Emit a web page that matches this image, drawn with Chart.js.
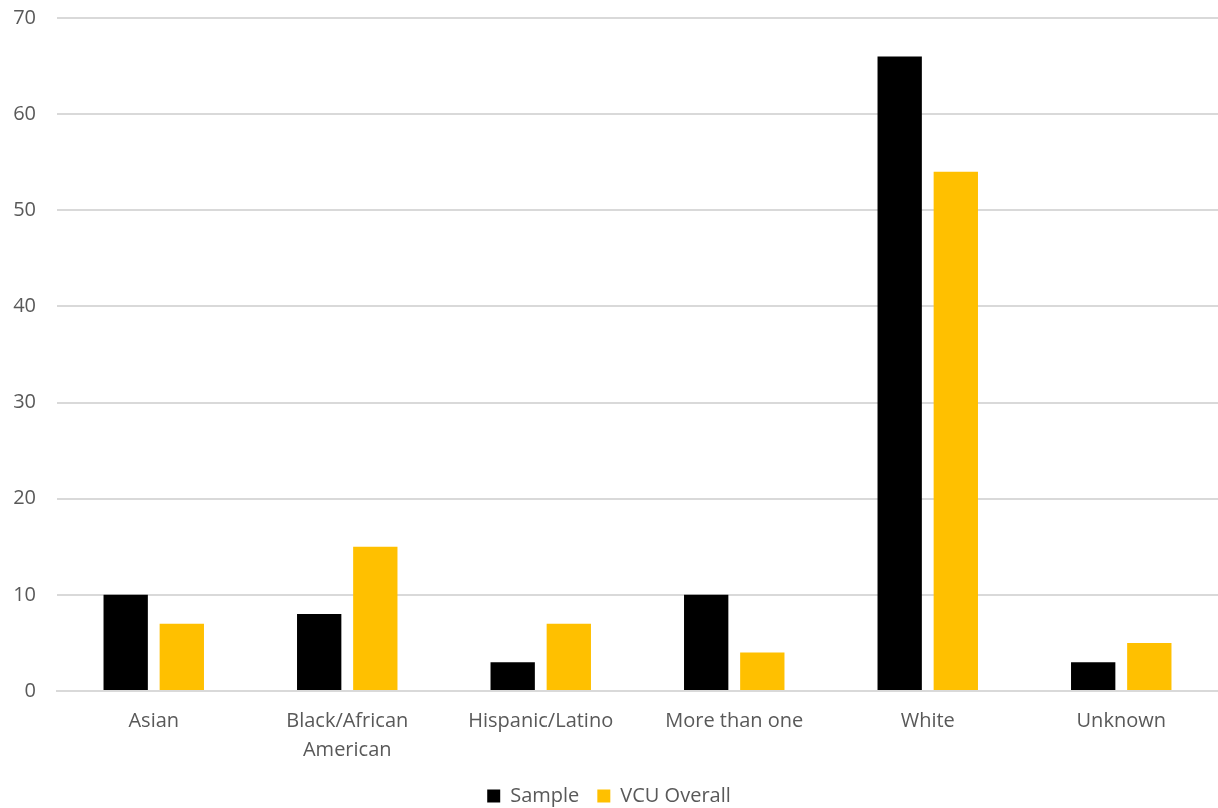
<!DOCTYPE html>
<html>
<head>
<meta charset="utf-8">
<script src="https://cdn.jsdelivr.net/npm/chart.js@4"></script>
<style>
    html, body { margin: 0; padding: 0; background: #ffffff; }
    #chart-wrap { width: 1218px; height: 808px; }
</style>
</head>
<body>
<div id="chart-wrap"><canvas id="race-chart"></canvas></div>
<script>
const categories = ['Asian', ['Black/African', 'American'], 'Hispanic/Latino', 'More than one', 'White', 'Unknown'];
const sample_values = [10, 8, 3, 10, 66, 3];
const vcu_overall_values = [7, 15, 7, 4, 54, 5];
const y_ticks = [0, 10, 20, 30, 40, 50, 60, 70];

const text_color = '#595959';
const grid_color = '#d9d9d9';

Chart.defaults.font.family = '"Open Sans", Lato, sans-serif';
Chart.defaults.font.size = 20;
Chart.defaults.color = text_color;

const race_chart = document.getElementById('race-chart');

new Chart(race_chart, {
    type: 'bar',
    data: {
        labels: categories,
        datasets: [
            {
                label: 'Sample',
                data: sample_values,
                backgroundColor: '#000000',
                barPercentage: 0.79,
                categoryPercentage: 0.58
            },
            {
                label: 'VCU Overall',
                data: vcu_overall_values,
                backgroundColor: '#ffc000',
                barPercentage: 0.79,
                categoryPercentage: 0.58
            }
        ]
    },
    options: {
        responsive: true,
        maintainAspectRatio: false,
        animation: false,
        layout: {
            autoPadding: false,
            padding: { top: 18, left: 0, right: 0, bottom: -8 }
        },
        plugins: {
            legend: {
                position: 'bottom',
                labels: {
                    boxWidth: 13,
                    boxHeight: 13,
                    padding: 18,
                    font: { size: 20 }
                }
            },
            tooltip: { enabled: false }
        },
        scales: {
            x: {
                grid: { display: false },
                border: { color: grid_color, width: 2 },
                ticks: { padding: 8, maxRotation: 0, font: { lineHeight: 1.45 } },
                afterFit: (axis) => {
                    axis.height -= 5;
                }
            },
            y: {
                min: 0,
                max: 70,
                afterBuildTicks: (axis) => {
                    axis.ticks = y_ticks.map((v) => ({ value: v }));
                },
                afterFit: (axis) => {
                    axis.width = 57;
                    axis.paddingTop = 0;
                    axis.paddingBottom = 0;
                },
                grid: { color: grid_color, lineWidth: 2, drawTicks: false },
                border: { display: false },
                ticks: { padding: 21 }
            }
        }
    }
});
</script>
</body>
</html>
